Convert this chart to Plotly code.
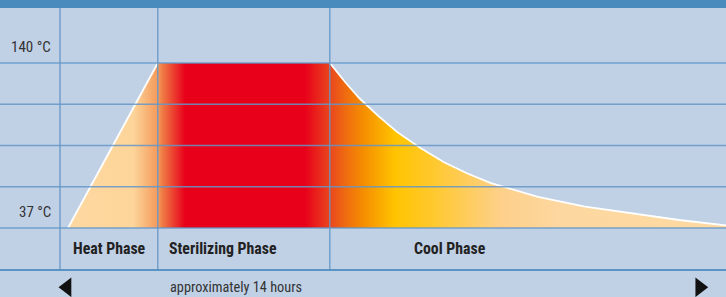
import plotly.graph_objects as go

# ---- data ----
# time in hours from start of heating, temperature in °C
profile_hours = [0.0, 1.91, 5.57, 5.9, 6.2, 6.6, 7.0, 7.5, 8.0, 8.5, 9.0, 10.0, 11.0, 12.0, 13.0, 14.0]
profile_temps = [37, 140, 140, 128, 118, 107, 97, 87, 78, 71, 65, 56.5, 50.4, 46, 42, 38.6]
baseline_temp = 37

grid_temps = [37, 62.75, 88.5, 114.25, 140]
labelled_temps = [140, 37]
temp_labels = ["140 °C", "37 °C"]

phase_edges = [-0.17, 1.91, 5.57]
phase_names = ["Heat Phase", "Sterilizing Phase", "Cool Phase"]
phase_label_x = [0.064, 2.106, 7.32]
phase_label_y = 24

arrow_hours = [-0.02, 13.44]
arrow_y = 0
duration_text = "approximately 14 hours"
duration_x = 2.13

# ---- styling ----
BG = "#c0d0e5"
BAR = "#4a8bbd"
GRID = "rgba(100,150,200,0.85)"
FONT = "Roboto Condensed, Liberation Sans Narrow, Roboto, sans-serif"

W, H = 726, 297
X_RANGE = [-68 / 47, 14.0]
Y_RANGE = [-6.07, 179.33]

fig = go.Figure()

# filled temperature profile with horizontal gradient
fill_x = profile_hours + [profile_hours[-1], profile_hours[0]]
fill_y = profile_temps + [baseline_temp, baseline_temp]
fig.add_trace(go.Scatter(
    x=fill_x, y=fill_y, mode="lines", fill="toself",
    line=dict(width=0, color="rgba(0,0,0,0)"),
    fillgradient=dict(
        type="horizontal",
        start=profile_hours[0], stop=profile_hours[-1],
        colorscale=[
            [0.0, "#fdd8a0"],
            [0.099, "#fdd59a"],
            [0.137, "#f4995a"],
            [0.143, "#ef7d45"],
            [0.178, "#e8001a"],
            [0.360, "#e8001a"],
            [0.398, "#e9461e"],
            [0.421, "#ef6a10"],
            [0.451, "#f69000"],
            [0.497, "#ffc400"],
            [0.550, "#ffc82a"],
            [0.657, "#fdd08a"],
            [0.748, "#fdd7a0"],
            [1.0, "#fed9a2"],
        ],
    ),
    hoverinfo="skip", showlegend=False,
))

# white edge on the heating slope and cooling curve
edge_x = profile_hours[:2] + [None] + profile_hours[2:]
edge_y = profile_temps[:2] + [None] + profile_temps[2:]
fig.add_trace(go.Scatter(
    x=edge_x, y=edge_y, mode="lines",
    line=dict(color="white", width=1.8),
    hoverinfo="skip", showlegend=False, connectgaps=False,
))

# arrows
fig.add_trace(go.Scatter(
    x=arrow_hours, y=[arrow_y] * len(arrow_hours), mode="markers",
    marker=dict(symbol=["triangle-left", "triangle-right"], size=17, color="#111111",
                line=dict(width=0)),
    hoverinfo="skip", showlegend=False,
))

shapes = []
for t in grid_temps:
    shapes.append(dict(type="line", xref="paper", x0=0, x1=1, yref="y", y0=t, y1=t,
                       line=dict(color=GRID, width=1.5), layer="above"))
top_paper = 1 - 8 / H
bottom_paper = 1 - 270 / H
for e in phase_edges:
    shapes.append(dict(type="line", xref="x", x0=e, x1=e, yref="paper",
                       y0=bottom_paper, y1=top_paper,
                       line=dict(color=GRID, width=1.5), layer="above"))
shapes.append(dict(type="line", xref="paper", x0=0, x1=1, yref="paper",
                   y0=bottom_paper, y1=bottom_paper,
                   line=dict(color="#5a94c4", width=2.2), layer="above"))
shapes.append(dict(type="rect", xref="paper", x0=0, x1=1, yref="paper",
                   y0=top_paper, y1=1.0, fillcolor=BAR, line=dict(width=0), layer="above"))

annotations = []
for t, lab in zip(labelled_temps, temp_labels):
    annotations.append(dict(x=-0.32, y=t, xref="x", yref="y", text=lab, showarrow=False,
                            xanchor="right", yanchor="middle", yshift=16,
                            font=dict(family=FONT, size=15, color="#333333")))
for xx, name in zip(phase_label_x, phase_names):
    annotations.append(dict(x=xx, y=phase_label_y, xref="x", yref="y",
                            text="<b>" + name + "</b>", showarrow=False,
                            xanchor="left", yanchor="middle",
                            font=dict(family=FONT, size=15.8, color="#222222")))
annotations.append(dict(x=duration_x, y=arrow_y, xref="x", yref="y", text=duration_text,
                        showarrow=False, xanchor="left", yanchor="middle",
                        font=dict(family=FONT, size=14.3, color="#333333")))

fig.update_layout(
    width=W, height=H,
    margin=dict(l=0, r=0, t=0, b=0),
    paper_bgcolor=BG, plot_bgcolor=BG,
    xaxis=dict(range=X_RANGE, visible=False, fixedrange=True),
    yaxis=dict(range=Y_RANGE, visible=False, fixedrange=True),
    shapes=shapes, annotations=annotations,
    showlegend=False,
)

fig.write_html("out.html", config=dict(displayModeBar=False),
               post_script="document.body.style.margin='0';document.body.style.overflow='hidden';")
